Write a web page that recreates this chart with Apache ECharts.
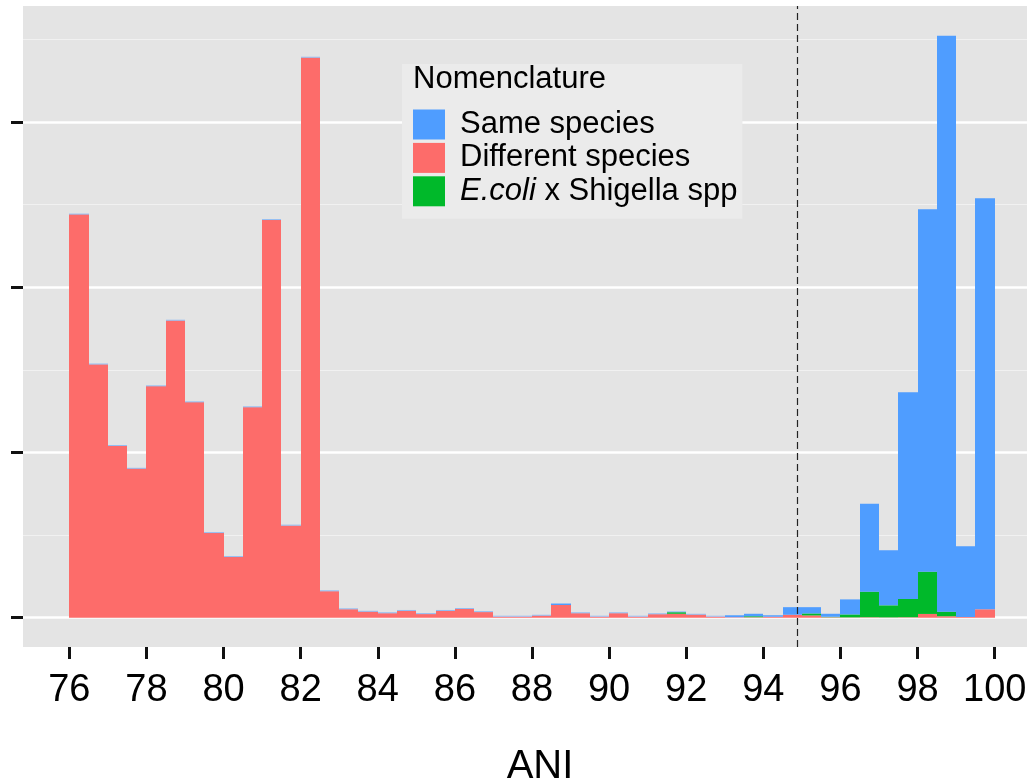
<!DOCTYPE html>
<html>
<head>
<meta charset="utf-8">
<script src="https://cdn.jsdelivr.net/npm/echarts@6/dist/echarts.min.js"></script>
<style>
html,body{margin:0;padding:0;background:#ffffff;overflow:hidden;}
#chart{width:1027px;height:780px;}
</style>
</head>
<body>
<div id="chart"></div>
<script>
// ---- data (bin left edges, bin width 0.5 ANI) ----
const binStarts = [76,76.5,77,77.5,78,78.5,79,79.5,80,80.5,81,81.5,82,82.5,83,83.5,84,84.5,85,85.5,86,86.5,87,87.5,88,88.5,89,89.5,90,90.5,91,91.5,92,92.5,93,93.5,94,94.5,95,95.5,96,96.5,97,97.5,98,98.5,99,99.5];
const binWidth = 0.5;
const differentSpecies = [243.9,153.2,103.9,90.1,140.0,179.7,130.3,51.2,36.7,127.3,240.6,55.7,338.8,16.0,5.1,3.6,2.7,4.1,2.2,4.1,5.3,3.4,0.6,0.6,1.2,7.7,2.7,0.6,2.7,0.6,2.1,2.4,1.8,0.6,0.3,0.3,0.6,1.8,1.4,0.3,0.2,0.3,0.2,0.3,2.3,0.9,0.5,5.1];
const ecoliShigella    = [0,0,0,0,0,0,0,0,0,0,0,0,0,0,0,0,0,0,0,0,0,0,0,0,0,0,0,0,0,0,0,0.9,0,0,0,0.6,0,0,1.2,0.3,1.8,15.5,7.3,11.1,25.6,2.8,0,0];
const sameSpecies      = [0,0,0,0,0,0,0,0,0,0,0,0,0,0,0,0,0,0,0,0,0,0,0,0,0,0.9,0,0,0,0,0,0,0.3,0,1.2,1.5,0.9,4.6,3.8,1.8,9.1,53.2,33.4,125.0,219.3,348.4,42.8,248.7];
const xTicks = [76,78,80,82,84,86,88,90,92,94,96,98,100];
const yMajorTicks = [0,100,200,300];
const yMinorTicks = [50,150,250,350];
const threshold = 94.88;

const seriesNames = ['Same species','Different species','E.coli x Shigella spp'];
const colors = {blue:'#4f9dff', red:'#fd6c6a', green:'#00b92a'};
const FONT = '"Liberation Sans", Arial, Helvetica, sans-serif';

function makeSeries(name, values, lowers, color, minPx, extra) {
  const data = binStarts.map(function (x0, i) {
    let base = 0;
    lowers.forEach(function (arr) { base += arr[i]; });
    return [x0, x0 + binWidth, base, base + values[i]];
  });
  return Object.assign({
    type: 'custom',
    name: name,
    data: data,
    clip: true,
    itemStyle: {color: color},
    encode: {x: [0, 1], y: [2, 3]},
    renderItem: function (params, api) {
      const p0 = api.coord([api.value(0), api.value(2)]);
      const p1 = api.coord([api.value(1), api.value(3)]);
      const xa = Math.round(p0[0]);
      const xb = Math.round(p1[0]);
      let h = p0[1] - p1[1];
      let top = p1[1];
      let opacity = 1;
      if (h < minPx) {
        if (minPx <= 0) return null;
        h = minPx; top = p0[1] - minPx; opacity = 0.55;
      }
      if (h <= 0) return null;
      return {
        type: 'rect',
        shape: {x: xa, y: top, width: xb - xa, height: h},
        style: {fill: color, opacity: opacity}
      };
    }
  }, extra || {});
}

const chart = echarts.init(document.getElementById('chart'), null, {renderer: 'canvas'});
chart.setOption({
  animation: false,
  backgroundColor: '#ffffff',
  title: {
    text: 'Nomenclature',
    left: 413, top: 64, padding: 0,
    textStyle: {fontFamily: FONT, fontSize: 31, fontWeight: 'normal', color: '#000000'}
  },
  legend: {
    data: seriesNames,
    orient: 'vertical',
    left: 402, top: 64,
    padding: [45, 5, 12, 11],
    backgroundColor: '#ebebeb',
    itemWidth: 32, itemHeight: 30, itemGap: 2.4,
    icon: 'rect',
    selectedMode: false,
    textStyle: {fontFamily: FONT, fontSize: 31, color: '#000000', lineHeight: 30, padding: [0, 0, 0, 10],
      rich: {i: {fontFamily: FONT, fontSize: 31, fontStyle: 'italic', color: '#000000', lineHeight: 30}}},
    formatter: function (name) {
      return name.indexOf('E.coli') === 0 ? '{i|E.coli} x Shigella spp' : name;
    }
  },
  grid: {left: 23, right: -14, top: 6, bottom: 133, show: true, backgroundColor: '#e4e4e4', borderWidth: 0,
    containLabel: false, outerBoundsMode: 'none'},
  xAxis: {
    type: 'value', min: 74.8, max: 101.2,
    name: 'ANI', nameLocation: 'middle', nameGap: 100,
    nameTextStyle: {fontFamily: FONT, fontSize: 40, color: '#000000', padding: [0, 0, 0, 16]},
    axisLine: {show: false, onZero: false},
    axisTick: {show: true, length: 12, customValues: xTicks, lineStyle: {color: '#111111', width: 3}},
    axisLabel: {show: true, customValues: xTicks, margin: 25, fontFamily: FONT, fontSize: 38, color: '#000000', hideOverlap: false},
    splitLine: {show: false}
  },
  yAxis: [
    {
      type: 'value', min: -17.7, max: 370.1, position: 'left',
      axisLine: {show: false, onZero: false},
      axisTick: {show: true, length: 12, inside: false, customValues: yMajorTicks, lineStyle: {color: '#111111', width: 3}},
      axisLabel: {show: false, customValues: yMajorTicks},
      splitLine: {show: true, lineStyle: {color: '#ffffff', width: 2.5}}
    },
    {
      type: 'value', min: -17.7, max: 370.1, position: 'left',
      axisLine: {show: false, onZero: false},
      axisTick: {show: true, length: 0, customValues: yMinorTicks, lineStyle: {color: 'rgba(0,0,0,0)', width: 0}},
      axisLabel: {show: false, customValues: yMinorTicks},
      splitLine: {show: true, lineStyle: {color: '#f1f1f1', width: 1.2}}
    }
  ],
  series: [
    makeSeries(seriesNames[1], differentSpecies, [], colors.red, 0),
    makeSeries(seriesNames[2], ecoliShigella, [differentSpecies], colors.green, 0),
    makeSeries(seriesNames[0], sameSpecies, [differentSpecies, ecoliShigella], colors.blue, 1, {
      markLine: {
        silent: true, symbol: ['none', 'none'], label: {show: false},
        lineStyle: {type: [7, 4], color: '#222222', width: 1.2},
        data: [{xAxis: threshold}]
      }
    })
  ]
});
</script>
</body>
</html>
